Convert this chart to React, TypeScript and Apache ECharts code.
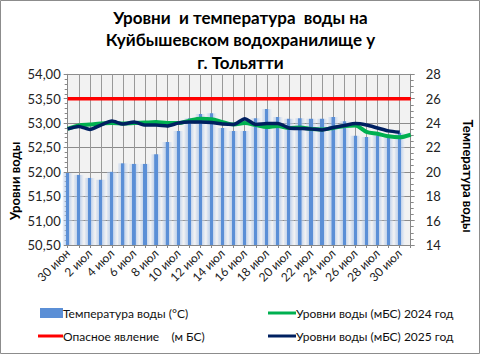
import React, { useEffect, useRef } from "react";
import * as echarts from "echarts";

const categories = [
  "30 июн", "1 июл", "2 июл", "3 июл", "4 июл", "5 июл", "6 июл", "7 июл", "8 июл", "9 июл",
  "10 июл", "11 июл", "12 июл", "13 июл", "14 июл", "15 июл", "16 июл", "17 июл", "18 июл", "19 июл",
  "20 июл", "21 июл", "22 июл", "23 июл", "24 июл", "25 июл", "26 июл", "27 июл", "28 июл", "29 июл",
  "30 июл", "31 июл",
];

const waterTemp = [
  19.9, 19.75, 19.5, 19.35, 20.0, 20.7, 20.65, 20.65, 21.45, 22.45,
  23.35, 24.4, 24.75, 24.8, 23.6, 23.35, 23.35, 24.4, 25.15, 24.5,
  24.35, 24.4, 24.35, 24.35, 24.5, 24.15, 22.95, 22.85, 23.0, 22.85,
  23.2, null,
];

const level2024 = [
  52.88, 52.95, 52.97, 52.99, 53.0, 52.99, 53.0, 53.01, 53.02, 53.0,
  53.0, 53.05, 53.09, 53.08, 53.02, 52.97, 53.0, 52.96, 52.92, 52.94,
  52.9, 52.91, 52.88, 52.87, 52.9, 52.94, 52.95, 52.82, 52.78, 52.73,
  52.71, 52.76,
];

const level2025 = [
  52.88, 52.93, 52.87, 52.96, 53.04, 52.98, 53.02, 52.96, 52.96, 52.94,
  53.0, 53.02, 53.02, 53.01, 52.98, 52.97, 53.09, 52.97, 52.99, 52.99,
  52.9, 52.89, 52.88, 52.86, 52.91, 52.95, 52.99, 52.96, 52.9, 52.84,
  52.81, null,
];

const dangerLevel = categories.map(() => 53.5);

const NAME_TEMP = "Температура воды (°С)";
const NAME_2024 = "Уровни воды (мБС) 2024 год";
const NAME_DANGER = "Опасное явление\u00a0\u00a0\u00a0 (м БС)";
const NAME_2025 = "Уровни воды (мБС) 2025 год";

const TITLE_LINES = ["Уровни  и температура  воды на", "Куйбышевском водохранилище у", "г. Тольятти"];

const FONT = "Lato, 'Noto Sans', sans-serif";

export default function App() {
  const ref = useRef<HTMLDivElement>(null);
  useEffect(() => {
    document.body.style.margin = "0";
    if (!ref.current) return;
    const chart = echarts.init(ref.current, undefined, { renderer: "svg" });
    const barGradient = new echarts.graphic.LinearGradient(0, 0, 1, 0, [
      { offset: 0, color: "rgba(200,215,240,0.35)" },
      { offset: 0.32, color: "rgba(160,190,230,0.6)" },
      { offset: 0.33, color: "#5b8fd6" },
      { offset: 0.64, color: "#5b8fd6" },
      { offset: 0.65, color: "rgba(170,195,232,0.7)" },
      { offset: 1, color: "rgba(225,233,245,0.3)" },
    ]);
    const legendText = { fontFamily: FONT, fontSize: 12, color: "#111", padding: [0, 0, 0, -5] };
    const legendBase = { padding: 0, textStyle: legendText };
    chart.setOption({
      animation: false,
      backgroundColor: "#ffffff",
      textStyle: { fontFamily: FONT },
      grid: {
        left: 67.7,
        right: 70.3,
        top: 74.3,
        bottom: 110,
        show: true,
        backgroundColor: "#f2f2f2",
        borderWidth: 0,
      },
      legend: [
        {
          ...legendBase,
          data: [{ name: NAME_TEMP, icon: "rect", itemStyle: { color: "#5b8fd6" } }],
          left: 40, top: 307, itemWidth: 23, itemHeight: 10,
        },
        {
          ...legendBase,
          data: [{ name: NAME_2024, icon: "rect", itemStyle: { color: "#00b050" } }],
          left: 268, top: 307, itemWidth: 28, itemHeight: 3,
        },
        {
          ...legendBase,
          data: [{ name: NAME_DANGER, icon: "rect", itemStyle: { color: "#ff0000" } }],
          left: 38, top: 330, itemWidth: 25, itemHeight: 3,
        },
        {
          ...legendBase,
          data: [{ name: NAME_2025, icon: "rect", itemStyle: { color: "#002060" } }],
          left: 268, top: 330, itemWidth: 28, itemHeight: 3,
        },
      ],
      xAxis: {
        type: "category",
        data: categories,
        boundaryGap: false,
        axisLine: { show: true, lineStyle: { color: "#888", width: 1 } },
        axisTick: { show: true, interval: 0, length: 3, lineStyle: { color: "#888" } },
        axisLabel: {
          interval: 1,
          rotate: 45,
          margin: 6,
          fontSize: 12,
          fontFamily: FONT,
          color: "#222",
        },
        splitLine: { show: true, interval: 0, lineStyle: { color: "#999", width: 1 } },
      },
      yAxis: [
        {
          type: "value",
          min: 50.5,
          max: 54,
          interval: 0.5,
          position: "left",
          axisLine: { show: true, lineStyle: { color: "#888" } },
          axisTick: { show: true, length: 4, lineStyle: { color: "#888" } },
          minorTick: { show: true, splitNumber: 5, length: 3, lineStyle: { color: "#888" } },
          axisLabel: {
            margin: 7,
            fontSize: 13,
            fontFamily: FONT,
            color: "#222",
            formatter: (v: number) => v.toFixed(2).replace(".", ","),
          },
          splitLine: { show: true, lineStyle: { color: "#8c8c8c", width: 1 } },
        },
        {
          type: "value",
          min: 14,
          max: 28,
          interval: 2,
          position: "right",
          axisLine: { show: true, lineStyle: { color: "#888" } },
          axisTick: { show: true, length: 4, lineStyle: { color: "#888" } },
          minorTick: { show: true, splitNumber: 4, length: 3, lineStyle: { color: "#888" } },
          axisLabel: {
            margin: 15,
            fontSize: 13,
            fontFamily: FONT,
            color: "#222",
          },
          splitLine: { show: false },
        },
      ],
      series: [
        {
          name: NAME_TEMP,
          type: "bar",
          yAxisIndex: 1,
          data: waterTemp,
          barWidth: 10,
          itemStyle: { color: barGradient },
          z: 1,
        },
        {
          name: NAME_2024,
          type: "line",
          yAxisIndex: 0,
          data: level2024,
          smooth: 0.3,
          symbol: "none",
          lineStyle: { color: "#00b050", width: 4 },
          itemStyle: { color: "#00b050" },
          z: 3,
        },
        {
          name: NAME_DANGER,
          type: "line",
          yAxisIndex: 0,
          data: dangerLevel,
          symbol: "none",
          lineStyle: { color: "#ff0000", width: 3.5 },
          itemStyle: { color: "#ff0000" },
          z: 2,
        },
        {
          name: NAME_2025,
          type: "line",
          yAxisIndex: 0,
          data: level2025,
          smooth: 0.2,
          symbol: "none",
          lineStyle: { color: "#002060", width: 3.5 },
          itemStyle: { color: "#002060" },
          z: 4,
        },
      ],
      graphic: [
        {
          type: "rect",
          shape: { x: 0.5, y: 0.5, width: 479, height: 353 },
          style: { fill: "none", stroke: "#8c8c8c", lineWidth: 1 },
          silent: true,
          z: 100,
        },
        ...TITLE_LINES.map((line, i) => ({
          type: "text",
          x: 240.5,
          y: 17 + i * 22.5,
          style: {
            text: line,
            fontFamily: FONT,
            fontSize: 17,
            fontWeight: "bold",
            fill: "#000",
            align: "center",
            verticalAlign: "middle",
          },
        })),
        {
          type: "text",
          x: 15,
          y: 181,
          rotation: Math.PI / 2,
          style: {
            text: "Уровни воды",
            fontFamily: FONT,
            fontSize: 13,
            fontWeight: "bold",
            fill: "#000",
            align: "center",
            verticalAlign: "middle",
          },
        },
        {
          type: "text",
          x: 468,
          y: 176,
          rotation: -Math.PI / 2,
          style: {
            text: "Температура воды",
            fontFamily: FONT,
            fontSize: 13,
            fontWeight: "bold",
            fill: "#000",
            align: "center",
            verticalAlign: "middle",
          },
        },
      ],
    });
    return () => chart.dispose();
  }, []);
  return <div ref={ref} style={{ width: 481, height: 355 }} />;
}
